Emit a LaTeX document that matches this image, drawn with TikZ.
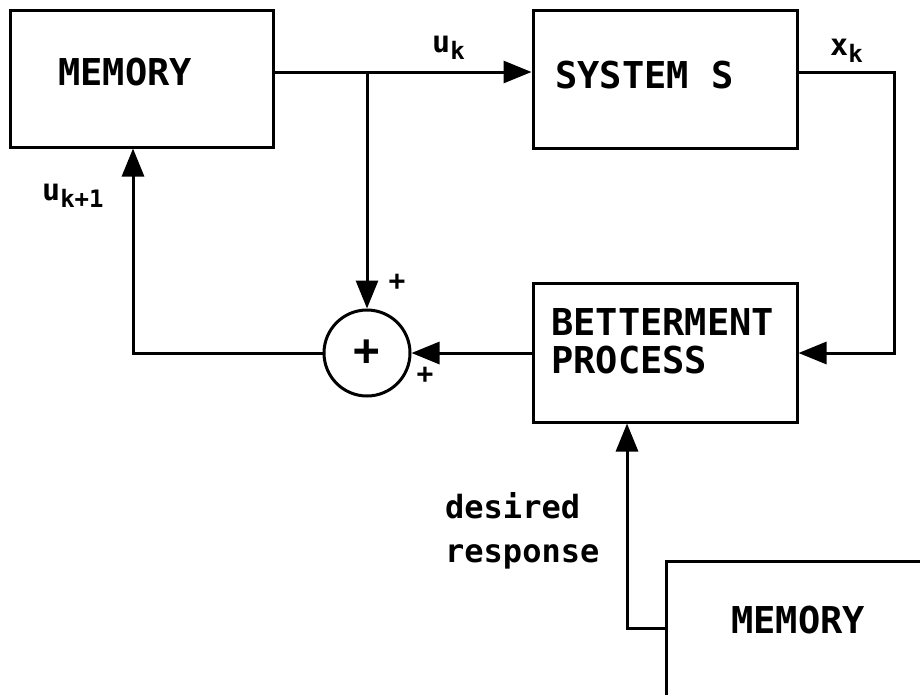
\documentclass[tikz,border=0pt]{standalone}
\usepackage{fontspec}
\newfontfamily\plotfont{DejaVu Sans Mono}
\usetikzlibrary{arrows.meta,positioning}
\tikzset{
  blk/.style={draw, line width=3pt, rectangle, inner sep=0pt},
  arr/.style={line width=3pt, -{Triangle[length=28pt,width=22pt]}},
  wire/.style={line width=3pt},
  bigtxt/.style={inner sep=0pt, anchor=base west, font=\plotfont\bfseries\fontsize{37}{40}\selectfont},
  lowtxt/.style={inner sep=0pt, anchor=base west, font=\plotfont\bfseries\fontsize{32}{36}\selectfont},
  lbl/.style={inner sep=0pt, anchor=base west, font=\plotfont\bfseries\fontsize{30}{32}\selectfont},
  sgn/.style={inner sep=0pt, font=\plotfont\bfseries\fontsize{28}{28}\selectfont},
}
\newcommand{\subk}[1]{\raisebox{-7pt}{\fontsize{24}{24}\selectfont #1}}
\begin{document}
\begin{tikzpicture}[x=1pt,y=-1pt]
\useasboundingbox (0,0) rectangle (920,694);
\clip (0,0) rectangle (920,694);
% boxes
\node[blk, minimum width=263pt, minimum height=137pt] (mem1) at (141.5,78.5) {};
\node[blk, minimum width=264pt, minimum height=138pt] (sys) at (665,79) {};
\node[blk, minimum width=264pt, minimum height=139pt] (bet) at (665,352.5) {};
\node[blk, anchor=north west, minimum width=300pt, minimum height=200pt] (mem2) at (665,560) {};
\node[draw, circle, line width=3pt, minimum size=86pt, inner sep=0pt] (sum) at (367,353) {};
% texts
\node[bigtxt] (t1) at (58,85) {MEMORY};
\node[bigtxt] (t2) at (555,88) {SYSTEM S};
\node[bigtxt] (t3) at (551,335) {BETTERMENT};
\node[bigtxt] (t4) at (551,373) {PROCESS};
\node[bigtxt] (t5) at (731,633) {MEMORY};
\node[lowtxt] (t6) at (445,518) {desired};
\node[lowtxt] (t7) at (445,562) {response};
\node[font=\plotfont\bfseries\fontsize{44}{44}\selectfont, inner sep=0pt] (pl) at (367,353) {+};
\node[sgn] (s1) at (397,282) {+};
\node[sgn] (s2) at (425,375) {+};
\node[lbl] (uk) at (432,52) {u\subk{k}};
\node[lbl] (xk) at (830,55) {x\subk{k}};
\node[lbl] (uk1) at (42,200) {u\subk{k+1}};
% coordinates
\coordinate (j1) at (367,72);
\coordinate (c2) at (894,72);
\coordinate (c1) at (133,353);
\coordinate (d1) at (627,628);
% connectors
\draw[arr] (mem1.east |- j1) -- (sys.west |- j1);
\draw[arr] (j1) -- (sum.north);
\draw[arr] (sys.east |- c2) -- (c2) |- (bet.east |- sum.center);
\draw[arr] (bet.west |- sum.center) -- (sum.east);
\draw[arr] (sum.west) -- (c1) -- (c1 |- mem1.south);
\draw[arr] (mem2.west |- d1) -- (d1) -- (d1 |- bet.south);
\end{tikzpicture}
\end{document}
